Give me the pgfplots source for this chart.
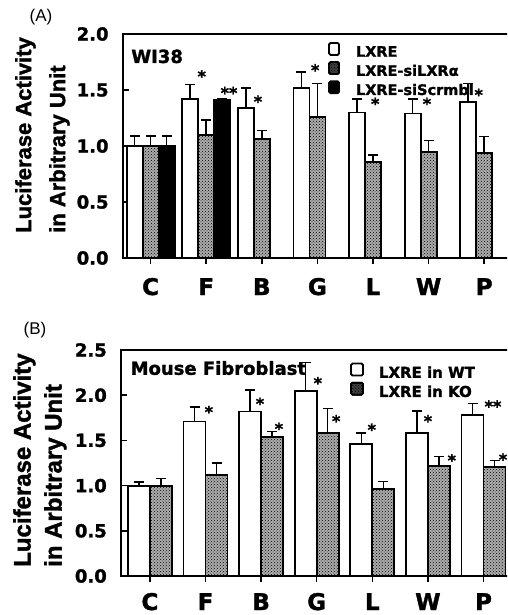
\documentclass[border=0pt]{standalone}
\usepackage{fontspec}
\setmainfont{Liberation Sans}[BoldFeatures={FakeBold=1.5}]
\newfontfamily\dv{DejaVu Sans}[BoldFeatures={FakeBold=1.5}]
\usepackage{pgfplots}
\pgfplotsset{compat=1.18}
\usepackage{pgfplotstable}
\usetikzlibrary{patterns}

% panel A: WI38
\pgfplotstableread{
x y e
0 1.00 0.09
1 1.42 0.13
2 1.34 0.18
3 1.52 0.14
4 1.30 0.12
5 1.29 0.13
6 1.39 0.17
}\wtA
\pgfplotstableread{
x y e
0 1.00 0.09
1 1.10 0.13
2 1.06 0.08
3 1.26 0.30
4 0.86 0.06
5 0.95 0.10
6 0.94 0.145
}\siA
\pgfplotstableread{
x y e
0 1.00 0.09
1 1.41 0.01
}\scA

% panel B: mouse fibroblast
\pgfplotstableread{
x y e
0 1.00 0.04
1 1.71 0.16
2 1.82 0.24
3 2.05 0.31
4 1.46 0.12
5 1.585 0.24
6 1.78 0.13
}\wtB
\pgfplotstableread{
x y e
0 1.00 0.08
1 1.12 0.13
2 1.54 0.06
3 1.585 0.27
4 0.96 0.085
5 1.22 0.10
6 1.21 0.07
}\koB

\pgfplotsset{
  panel/.style={
    scale only axis, width=405.9pt,
    ymin=0, ybar=0pt,
    axis line style={line width=2.2pt},
    tick pos=left, tick align=outside,
    major tick length=6pt,
    xtick={0,...,6}, xticklabels={C,F,B,G,L,W,P},
    xtick style={line width=1.5pt, black},
    ytick style={line width=1.5pt, black, xshift=6pt},
    xticklabel style={font=\dv\bfseries\fontsize{23}{23}\selectfont, anchor=base},
    yticklabel style={font=\dv\bfseries\fontsize{18}{18}\selectfont, anchor=east, inner sep=0pt, xshift=-8pt},
    /pgf/number format/fixed, /pgf/number format/fixed zerofill,
    /pgf/number format/precision=1, /pgf/number format/assume math mode=true,
    legend cell align=left,
    /pgfplots/error bars/y dir=plus, /pgfplots/error bars/y explicit,
    /pgfplots/error bars/error bar style={line width=1.5pt, black},
    /pgfplots/error bars/error mark options={rotate=90, mark size=5pt, line width=1.5pt, black},
  },
  dotted bar/.style={draw=black, fill=black!32, line width=1.8pt,
    postaction={pattern=crosshatch dots, pattern color=black}},
}
\tikzset{st/.style={font=\dv\bfseries\fontsize{16}{16}\selectfont, inner sep=0pt, anchor=base, yshift=-9.5pt}}

\begin{document}
\begin{tikzpicture}
\useasboundingbox (0pt,0pt) rectangle (507pt,-615pt);
\clip (0pt,0pt) rectangle (507pt,-615pt);

% ---------- (A)
\node[font=\fontsize{17}{17}\selectfont, inner sep=0pt] at (41pt,-17pt) {(A)};
\node[rotate=90, anchor=north west, align=left, inner sep=0pt,
      font=\bfseries\fontsize{22}{34}\selectfont] at (15pt,-233pt)
      {Luciferase Activity\\in Arbitrary Unit};

\begin{axis}[panel,
  at={(122.8pt,-258pt)}, anchor=south west, height=224pt,
  xmin=-0.5, xmax=6.8, ymax=2, ytick={0,0.5,...,2},
  xticklabel style={yshift=-31pt},
  bar width=16pt,
  legend style={draw=none, fill=none, inner sep=0pt,
    at={(axis description cs:0.5055,0.965)}, anchor=north west,
    font=\dv\bfseries\fontsize{14.5}{14.5}\selectfont,
    nodes={inner sep=0pt, text height=11pt, text depth=4.5pt},
    /tikz/every odd column/.append style={column sep=16pt}},
]
\addplot[draw=black, fill=white, line width=1.8pt,
  legend image code/.code={\draw[line width=1.8pt, fill=white, rounded corners=1.5pt] (0pt,-1.5pt) rectangle (10pt,10.5pt);}]
  table[x=x, y=y, y error=e] {\wtA};
\addplot[dotted bar,
  legend image code/.code={\draw[line width=1.8pt, fill=black!75, rounded corners=1.5pt] (0pt,-1.5pt) rectangle (10pt,10.5pt);}]
  table[x=x, y=y, y error=e] {\siA};
\addplot[draw=black, fill=black, line width=1.8pt,
  legend image code/.code={\draw[line width=1.8pt, fill=black, rounded corners=1.5pt] (0pt,-1.5pt) rectangle (10pt,10.5pt);}]
  table[x=x, y=y, y error=e] {\scA};
\legend{LXRE, LXRE-siLXRα, LXRE-siScrmbl}

\node[font=\dv\bfseries\fontsize{18}{18}\selectfont, inner sep=0pt, anchor=west]
  at (axis cs:-0.35,1.8) {WI38};
\node[st] at (axis cs:0.92,1.655) {*};
\node[st] at (axis cs:1.41,1.507) {**};
\node[st] at (axis cs:1.93,1.43) {*};
\node[st] at (axis cs:2.96,1.71) {*};
\node[st] at (axis cs:4.04,1.41) {*};
\node[st] at (axis cs:4.97,1.41) {*};
\node[st] at (axis cs:5.90,1.49) {*};
\end{axis}

% ---------- (B)
\node[font=\fontsize{17}{17}\selectfont, inner sep=0pt] at (35pt,-330pt) {(B)};
\node[rotate=90, anchor=north west, align=left, inner sep=0pt,
      font=\bfseries\fontsize{24}{31}\selectfont] at (13pt,-567pt)
      {Luciferase Activity\\in Arbitrary Unit};

\begin{axis}[panel,
  at={(121pt,-576pt)}, anchor=south west, height=226pt,
  xmin=-0.52, xmax=6.78, ymax=2.5, ytick={0,0.5,...,2.5},
  xticklabel style={yshift=-28pt},
  bar width=22pt,
  legend style={draw=none, fill=none, inner sep=0pt,
    at={(axis description cs:0.564,0.945)}, anchor=north west,
    font=\dv\bfseries\fontsize{15}{15}\selectfont,
    nodes={inner sep=0pt, text height=10.5pt, text depth=4pt},
    /tikz/every odd column/.append style={column sep=15pt}},
]
\addplot[draw=black, fill=white, line width=1.8pt,
  legend image code/.code={\draw[line width=1.8pt, fill=white, rounded corners=1.5pt] (0pt,-1pt) rectangle (12pt,11pt);}]
  table[x=x, y=y, y error=e] {\wtB};
\addplot[dotted bar,
  legend image code/.code={\draw[line width=1.8pt, fill=black!75, rounded corners=1.5pt] (0pt,-1pt) rectangle (12pt,11pt);}]
  table[x=x, y=y, y error=e] {\koB};
\legend{LXRE in WT, LXRE in KO}

\node[font=\dv\bfseries\fontsize{18}{18}\selectfont, inner sep=0pt, anchor=west]
  at (axis cs:-0.35,2.3) {Mouse Fibroblast};
\node[st] at (axis cs:1.06,1.855) {*};
\node[st] at (axis cs:1.98,1.947) {*};
\node[st] at (axis cs:2.32,1.67) {*};
\node[st] at (axis cs:3.02,2.175) {*};
\node[st] at (axis cs:3.35,1.755) {*};
\node[st] at (axis cs:3.99,1.66) {*};
\node[st] at (axis cs:5.00,1.755) {*};
\node[st] at (axis cs:5.43,1.32) {*};
\node[st] at (axis cs:6.17,1.917) {**};
\node[st] at (axis cs:6.35,1.33) {*};
\end{axis}
\end{tikzpicture}
\end{document}
